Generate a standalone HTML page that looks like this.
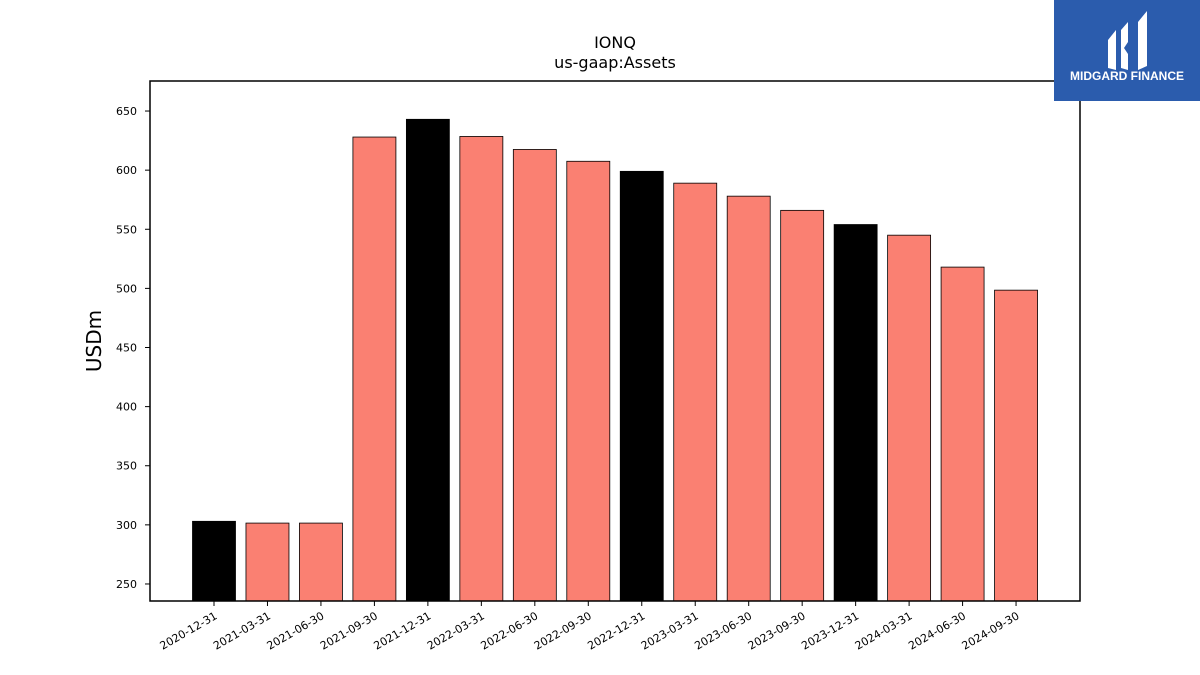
<!DOCTYPE html>
<html><head><meta charset="utf-8"><style>
body{margin:0;background:#fff;}
svg{display:block;font-family:"DejaVu Sans","Liberation Sans",sans-serif;}
</style></head><body>
<svg id="chart" width="1200" height="675" viewBox="0 0 1200 675">
<rect width="1200" height="675" fill="#fff"/>
<text x="615" y="48" text-anchor="middle" font-size="16">IONQ</text>
<text x="615" y="68" text-anchor="middle" font-size="16">us-gaap:Assets</text>
<text transform="translate(101,341) rotate(-90)" text-anchor="middle" font-size="20">USDm</text>
<g id="bars"></g>
<g id="yticks"></g>
<g id="xticks"></g>
<rect x="150" y="81" width="930" height="520" fill="none" stroke="#000" stroke-width="1.5"/>
<g>
<rect x="1054" y="0" width="146" height="101" fill="#2b5cad"/>
<path d="M1108,40 L1116,30 L1116,70 L1108,68 Z" fill="#fff"/>
<path d="M1121,30 L1128,22 L1128,42 L1124,48 L1128,54 L1128,70 L1121,68 Z" fill="#fff"/>
<path d="M1138,22 L1147,11 L1147,66 L1138,70 Z" fill="#fff"/>
<text x="1127" y="80" text-anchor="middle" font-size="12" font-weight="bold" fill="#fff" font-family="Liberation Sans, sans-serif">MIDGARD FINANCE</text>
</g>
</svg>
<script>
const categories=["2020-12-31","2021-03-31","2021-06-30","2021-09-30","2021-12-31","2022-03-31","2022-06-30","2022-09-30","2022-12-31","2023-03-31","2023-06-30","2023-09-30","2023-12-31","2024-03-31","2024-06-30","2024-09-30"];
const values=[303,301.5,301.5,628,643,628.5,617.5,607.5,599,589,578,566,554,545,518,498.5];
const annual=[1,0,0,0,1,0,0,0,1,0,0,0,1,0,0,0];
const yTicks=[250,300,350,400,450,500,550,600,650];
const NS="http://www.w3.org/2000/svg";
const yMin=235.6,yMax=675.4,plotTop=81,plotBottom=601;
function y(v){return plotBottom-(v-yMin)/(yMax-yMin)*(plotBottom-plotTop);}
function x(i){return 214+i*53.47;}
const bw=43;
const gb=document.getElementById('bars'),gy=document.getElementById('yticks'),gx=document.getElementById('xticks');
function mk(t,a){const e=document.createElementNS(NS,t);for(const k in a)e.setAttribute(k,a[k]);return e;}
values.forEach((v,i)=>{
 const r=mk('rect',{x:x(i)-bw/2,y:y(v),width:bw,height:plotBottom-y(v),fill:annual[i]?'#000':'#fa8072',stroke:'#000','stroke-width':0.8});
 
 
 gb.appendChild(r);
 const t=mk('line',{x1:x(i),x2:x(i),y1:plotBottom,y2:plotBottom+5,stroke:'#000'});
 
 
 gx.appendChild(t);
 const l=mk('text',{'font-size':11,'text-anchor':'end',transform:`translate(${x(i)+4},${plotBottom+17}) rotate(-30)`});
 l.textContent=categories[i];
 
 
 gx.appendChild(l);
});
yTicks.forEach(v=>{
 const t=mk('line',{x1:145,x2:150,y1:y(v),y2:y(v),stroke:'#000'});
 
 
 gy.appendChild(t);
 const l=mk('text',{x:137,y:y(v)+4,'font-size':11,'text-anchor':'end'});
 l.textContent=v;
 
 
 gy.appendChild(l);
});
</script>
</body></html>
